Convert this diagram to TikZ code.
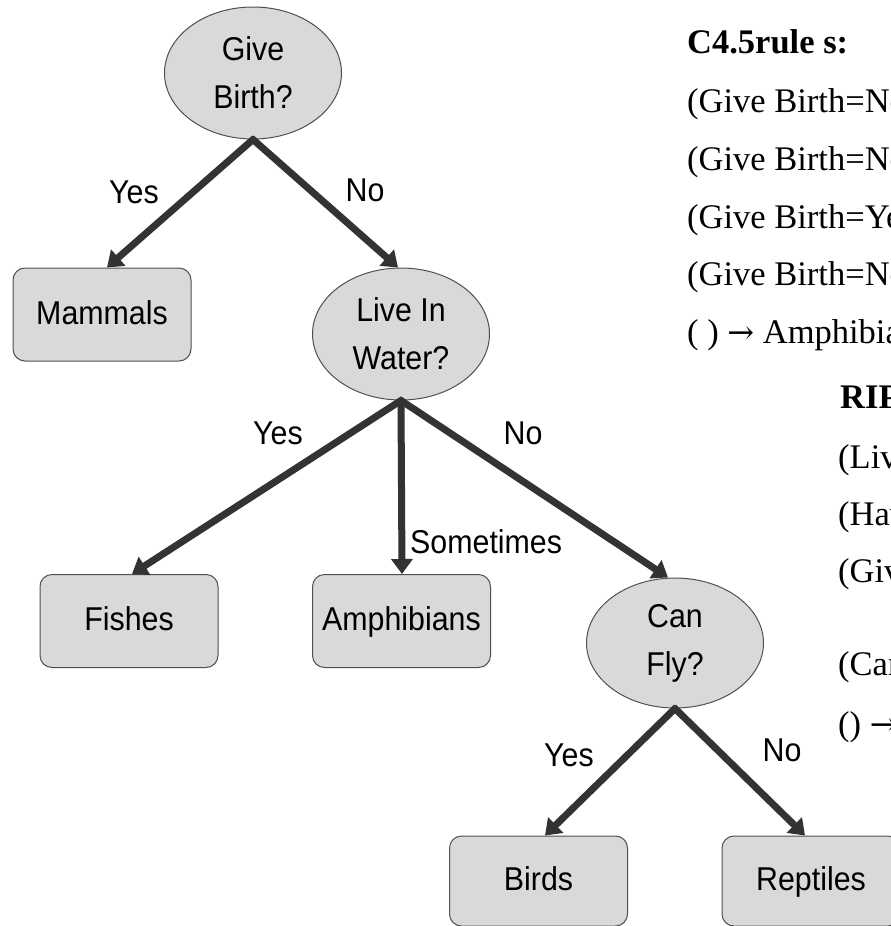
\documentclass[tikz,border=0pt]{standalone}
\usepackage{fontspec}
\setmainfont{Liberation Serif}
\newfontfamily\arialfont[FakeStretch=0.92]{Liberation Sans}
\newfontfamily\arrowfont{DejaVu Serif}
\newcommand{\rarr}{{\arrowfont\fontsize{32}{40}\selectfont →}}
\usetikzlibrary{arrows.meta,shapes.geometric}
\definecolor{nodefill}{HTML}{D9D9D9}
\definecolor{nodeline}{HTML}{505050}
\definecolor{arrcol}{HTML}{333333}
\tikzset{
  dec/.style={ellipse, draw=nodeline, line width=1pt, fill=nodefill,
    minimum width=177, minimum height=132, inner sep=0pt, align=center,
    font=\arialfont\fontsize{33}{48}\selectfont},
  leaf/.style={rectangle, rounded corners=12, draw=nodeline, line width=1pt, fill=nodefill,
    minimum width=178, minimum height=93, inner sep=0pt, text height=23pt, text depth=4pt,
    font=\arialfont\fontsize{33}{38}\selectfont},
  lbl/.style={inner sep=0pt, font=\arialfont\fontsize{33}{38}\selectfont},
  arr/.style={draw=arrcol, line width=7pt, -{Triangle[length=15pt,width=21pt]}, shorten <=-2pt},
  ruletxt/.style={anchor=base west, inner sep=0pt, font=\fontsize{34.5}{40}\selectfont},
  ruletitle/.style={anchor=base west, inner sep=0pt, font=\bfseries\fontsize{34.5}{40}\selectfont}
}
\begin{document}
\begin{tikzpicture}[x=1pt,y=-1pt]
\useasboundingbox (0,0) rectangle (891,926);
\clip (0,0) rectangle (891,926);
% tree nodes
\node[dec] (gb) at (253,73) {Give\\Birth?};
\node[leaf] (mam) at (102,314.5) {Mammals};
\node[dec] (liw) at (401,334) {Live In\\Water?};
\node[leaf] (fis) at (129,621) {Fishes};
\node[leaf] (amp) at (401.5,621) {Amphibians};
\node[dec, minimum height=130] (cf) at (675,643) {Can\\Fly?};
\node[leaf, minimum height=90] (bir) at (538.5,881) {Birds};
\node[leaf, minimum height=90] (rep) at (811,881) {Reptiles};
% connectors
\draw[arr] (gb.south) -- ([xshift=5pt]mam.north);
\draw[arr] (gb.south) -- ([xshift=-3pt]liw.north);
\draw[arr] (liw.south) -- ([xshift=3pt]fis.north);
\draw[arr] (liw.south) -- ([xshift=0.5pt]amp.north);
\draw[arr] (liw.south) -- ([xshift=-7pt]cf.north);
\draw[arr] (cf.south) -- ([xshift=6.5pt]bir.north);
\draw[arr] (cf.south) -- ([xshift=-6pt]rep.north);
% edge labels
\node[lbl] (l1) at (134,192) {Yes};
\node[lbl] (l2) at (365,190) {No};
\node[lbl] (l3) at (278,433) {Yes};
\node[lbl] (l4) at (523,433) {No};
\node[lbl, anchor=west] (l5) at (410,542) {Sometimes};
\node[lbl] (l6) at (569,755) {Yes};
\node[lbl] (l7) at (782,750) {No};
% C4.5 rules
\node[ruletitle] (ct) at (687,53) {C4.5rule s:};
\node[ruletxt] (c1) at (687,112) {(Give Birth=No, Can Fly=Yes) \rarr{} Birds};
\node[ruletxt] (c2) at (687,170) {(Give Birth=No, Live in Water=Yes) \rarr{} Fishes};
\node[ruletxt] (c3) at (687,228) {(Give Birth=Yes) \rarr{} Mammals};
\node[ruletxt] (c4) at (687,285) {(Give Birth=No, Can Fly=No, Live in Water=No) \rarr{} Reptiles};
\node[ruletxt] (c5) at (687,343) {( ) \rarr{} Amphibians};
% RIPPER rules
\node[ruletitle] (rt) at (840,408) {RIPPER rules:};
\node[ruletxt] (r1) at (838,468) {(Live in Water=Yes) \rarr{} Fishes};
\node[ruletxt] (r2) at (838,525) {(Have Legs=No) \rarr{} Reptiles};
\node[ruletxt] (r3) at (838,582) {(Give Birth=No, Can Fly=No, Live In Water=No)};
\node[ruletxt] (r4) at (838,675) {(Can Fly=Yes,Give Birth=No) \rarr{} Birds};
\node[ruletxt] (r5) at (838,735) {() \rarr{} Mammals};
\end{tikzpicture}
\end{document}
